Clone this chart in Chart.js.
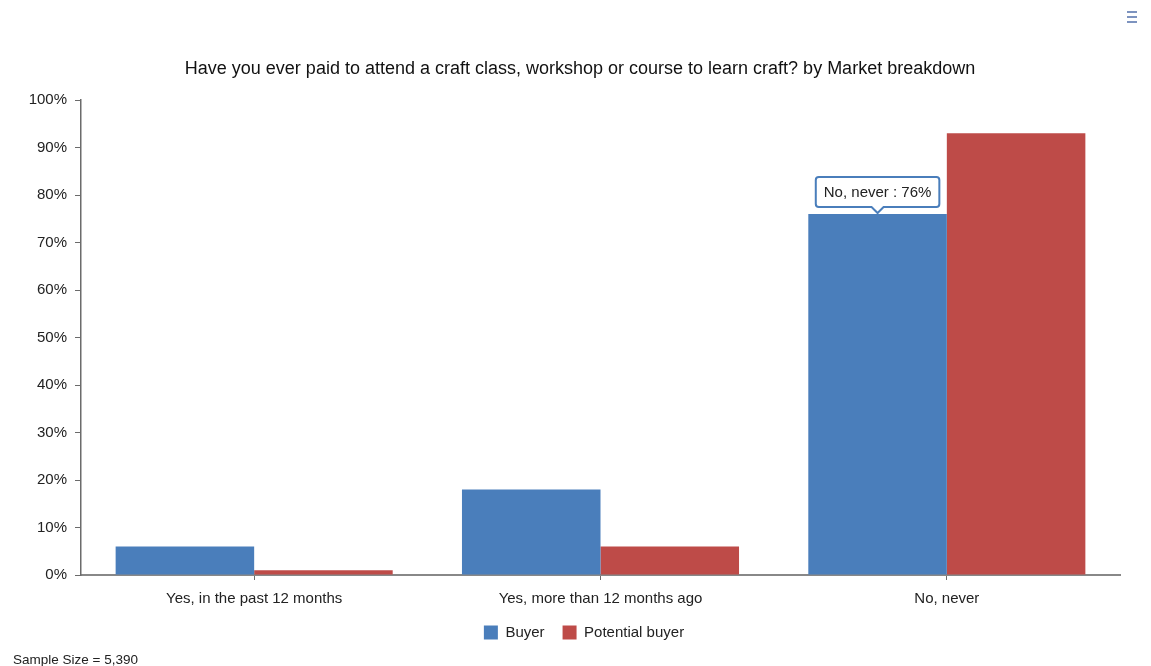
<!DOCTYPE html>
<html>
<head>
<meta charset="utf-8">
<script src="https://cdn.jsdelivr.net/npm/chart.js@4/dist/chart.umd.min.js"></script>
<style>
  html, body { margin: 0; padding: 0; background: #fff; overflow: hidden; }
  #wrap { position: relative; width: 1151px; height: 666px; }
  #c { position: absolute; left: 0; top: 0; }
  #sample { position: absolute; left: 13px; top: 653px; font: 13.5px "Liberation Sans", Arial, sans-serif; line-height: 13.5px; color: #222; }
  #menu { position: absolute; left: 1127px; top: 11px; width: 10px; }
  #menu span { display: block; height: 2px; background: #7d93bf; margin-bottom: 3px; }
</style>
</head>
<body>
<div id="wrap">
  <canvas id="c" width="1151" height="666"></canvas>
  <div id="menu"><span></span><span></span><span></span></div>
  <div id="sample">Sample Size = 5,390</div>
</div>
<script>
// Survey answers and share of respondents per market segment (%)
const categories = ["Yes, in the past 12 months", "Yes, more than 12 months ago", "No, never"];
const buyer = [6, 18, 76];
const potentialBuyer = [1, 6, 93];
const yTicks = [0, 10, 20, 30, 40, 50, 60, 70, 80, 90, 100];
const highlightIndex = 2; // answer whose Buyer value gets a callout

const BLUE = "#4A7EBB";
const RED = "#BE4B48";
const AXIS = "#6b6b6b";
const FONT = "'Liberation Sans', Arial, sans-serif";

// Nudge title and legend so they sit centred over the plot rather than the canvas
const centerPlugin = {
  id: "centerBlocks",
  afterLayout(chart) {
    if (chart.legend) { chart.legend.left += 24; chart.legend.right += 24; }
    if (chart.titleBlock) { chart.titleBlock.left += 20; chart.titleBlock.right += 20; }
  }
};

// Callout box above the highlighted Buyer bar
const calloutPlugin = {
  id: "callout",
  afterDatasetsDraw(chart) {
    const meta = chart.getDatasetMeta(0);
    const bar = meta.data[highlightIndex];
    if (!bar) return;
    const ctx = chart.ctx;
    const text = categories[highlightIndex] + " : " + buyer[highlightIndex] + "%";
    ctx.save();
    ctx.font = "15px " + FONT;
    const w = ctx.measureText(text).width + 16;
    const h = 30;
    const cx = bar.x;
    const bottom = bar.y - 7;
    const left = cx - w / 2;
    const top = bottom - h;
    const r = 3;
    ctx.beginPath();
    ctx.moveTo(left + r, top);
    ctx.lineTo(left + w - r, top);
    ctx.quadraticCurveTo(left + w, top, left + w, top + r);
    ctx.lineTo(left + w, bottom - r);
    ctx.quadraticCurveTo(left + w, bottom, left + w - r, bottom);
    ctx.lineTo(cx + 6, bottom);
    ctx.lineTo(cx, bottom + 6);
    ctx.lineTo(cx - 6, bottom);
    ctx.lineTo(left + r, bottom);
    ctx.quadraticCurveTo(left, bottom, left, bottom - r);
    ctx.lineTo(left, top + r);
    ctx.quadraticCurveTo(left, top, left + r, top);
    ctx.closePath();
    ctx.fillStyle = "rgba(255,255,255,0.95)";
    ctx.fill();
    ctx.lineWidth = 2;
    ctx.strokeStyle = BLUE;
    ctx.stroke();
    ctx.fillStyle = "#222";
    ctx.textAlign = "center";
    ctx.textBaseline = "middle";
    ctx.fillText(text, cx, top + h / 2 + 1);
    ctx.restore();
  }
};

new Chart(document.getElementById("c"), {
  type: "bar",
  data: {
    labels: categories,
    datasets: [
      { label: "Buyer", data: buyer, backgroundColor: BLUE, borderWidth: 0 },
      { label: "Potential buyer", data: potentialBuyer, backgroundColor: RED, borderWidth: 0 }
    ]
  },
  options: {
    responsive: false,
    animation: false,
    events: [],
    layout: { padding: { left: 0, right: 31, top: 0, bottom: 16 } },
    datasets: { bar: { categoryPercentage: 0.8, barPercentage: 1.0 } },
    plugins: {
      title: {
        display: true,
        text: "Have you ever paid to attend a craft class, workshop or course to learn craft? by Market breakdown",
        color: "#111",
        font: { family: FONT, size: 18, weight: "normal" },
        padding: { top: 58, bottom: 20.4 }
      },
      legend: {
        position: "bottom",
        labels: {
          color: "#222",
          font: { family: FONT, size: 15 },
          boxWidth: 14,
          boxHeight: 14,
          padding: 18
        }
      },
      tooltip: { enabled: false }
    },
    scales: {
      x: {
        grid: { display: true, offset: false, drawOnChartArea: false, drawTicks: true, tickLength: 5, color: AXIS, lineWidth: 1 },
        border: { display: true, color: "#888", width: 2 },
        ticks: { color: "#222", font: { family: FONT, size: 15 }, padding: 10, maxRotation: 0 },
        afterFit(scale) { scale.height = 32; }
      },
      y: {
        min: 0,
        max: 100,
        afterBuildTicks(scale) { scale.ticks = yTicks.map(v => ({ value: v })); },
        grid: { display: true, drawOnChartArea: false, drawTicks: true, tickLength: 6, color: AXIS, lineWidth: 1 },
        border: { display: true, color: AXIS, width: 1.5 },
        ticks: { color: "#222", font: { family: FONT, size: 15 }, padding: 8, callback: v => v + "%" },
        afterFit(scale) { scale.width = 81; }
      }
    }
  },
  plugins: [centerPlugin, calloutPlugin]
});
</script>
</body>
</html>
